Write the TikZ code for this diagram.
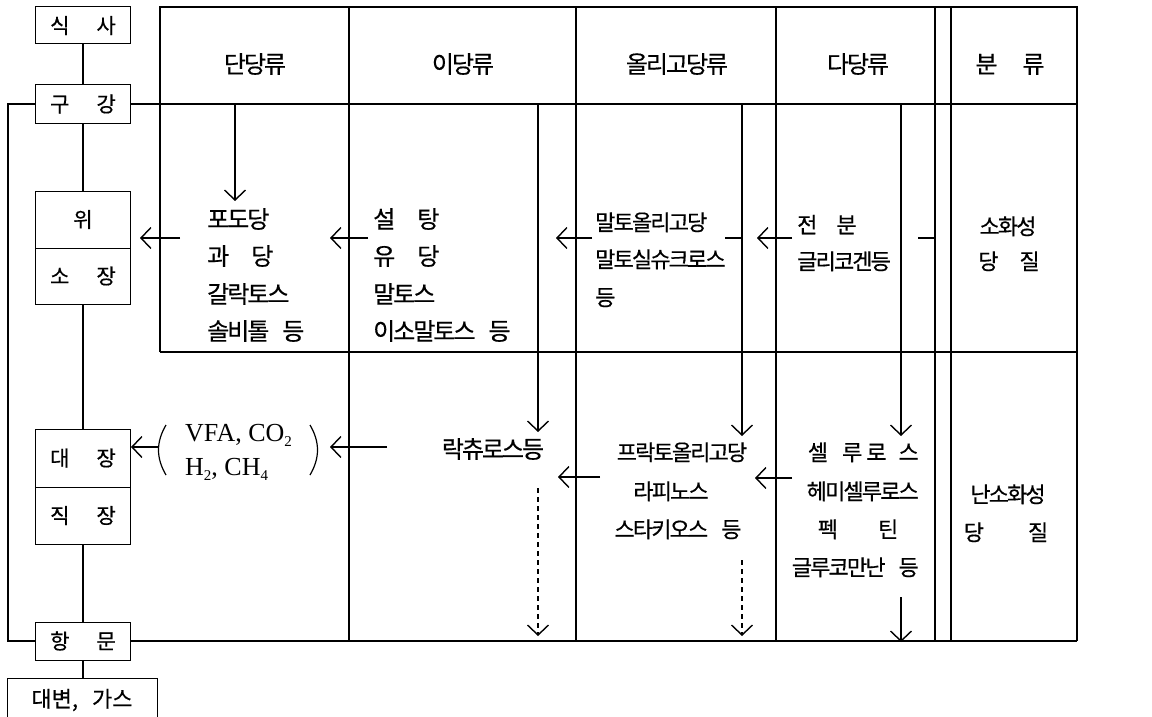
\documentclass[tikz,border=0pt]{standalone}
\usepackage{fontspec}
\newfontfamily\kr{Noto Sans CJK KR}[FakeBold=0.5]
\newfontfamily\krt{Noto Sans CJK KR}[FakeBold=0.5,LetterSpace=-8.5]
\newfontfamily\latf{Liberation Serif}
\newcommand\mysub[1]{\raisebox{-0.22em}{\fontsize{15}{15}\selectfont #1}}
\usetikzlibrary{arrows.meta}
\begin{document}
\begin{tikzpicture}[x=1pt,y=-1pt,
  ln/.style={line width=1.4pt},
  arr/.style={line width=1.4pt,-{Straight Barb[length=10pt,width=21pt,line width=1.4pt]}},
  darr/.style={arr,dash pattern=on 5pt off 4pt},
  box/.style={draw,line width=1pt,inner sep=0pt,minimum width=95pt,font=\kr\fontsize{21}{24}\selectfont},
  big/.style={inner sep=0pt,font=\krt\fontsize{24}{28}\selectfont},
  mid/.style={inner sep=0pt,font=\krt\fontsize{22}{26}\selectfont},
  lat/.style={inner sep=0pt,anchor=base west,font=\latf\fontsize{26}{30}\selectfont},
]
\fill[white] (0,0) rectangle (1152,717);
\useasboundingbox (0,0) rectangle (1152,717);

% ---- body boxes ----
\node[box,minimum height=37pt] (sik) at (83,25.5) {식\hspace{27pt}사};
\node[box,minimum height=38pt] (gu) at (83,104) {구\hspace{27pt}강};
\node[box,minimum height=57pt] (wi) at (83,219.5) {위};
\node[box,minimum height=56pt] (so) at (83,276) {소\hspace{27pt}장};
\node[box,minimum height=58pt] (dae) at (83,458) {대\hspace{27pt}장};
\node[box,minimum height=57pt] (jik) at (83,515.5) {직\hspace{27pt}장};
\node[box,minimum height=38pt] (hang) at (83,641) {항\hspace{27pt}문};
\node[box,minimum width=150pt,minimum height=44pt,font=\kr\fontsize{22}{24}\selectfont] (dv) at (82,700) {대변,\hspace{14pt}가스};

\draw[ln] (sik.south) -- (gu.north);
\draw[ln] (gu.south) -- (wi.north);
\draw[ln] (so.south) -- (dae.north);
\draw[ln] (jik.south) -- (hang.north);
\draw[ln] (hang.south) -- (hang.south |- dv.north);
\coordinate (lt) at (8,104);
\draw[ln] (gu.west) -- (lt) |- (hang.west);

% ---- table ----
\draw[ln] (160,352) -- (160,7) -- (1077,7) -- (1077,641);
\draw[ln] (gu.east) -- (1077,104);
\draw[ln] (160,352) -- (1077,352);
\draw[ln] (hang.east) -- (1077,641);
\foreach \xx in {349,576,776,935,951} \draw[ln] (\xx,7) -- (\xx,641);

% headers
\node[big,anchor=base] (h1) at (255,73) {단당류};
\node[big,anchor=base] (h2) at (463,73) {이당류};
\node[big,anchor=base] (h3) at (677,73) {올리고당류};
\node[big,anchor=base] (h4) at (858,73) {다당류};
\node[big,anchor=base] (h5) at (1010,73) {분\hspace{25pt}류};

% row 1
\node[big,anchor=base west] (a1) at (207,228) {포도당};
\node[big,anchor=base west] (a2) at (207,265) {과\hspace{22pt}당};
\node[big,anchor=base west] (a3) at (207,303) {갈락토스};
\node[big,anchor=base west] (a4) at (207,340) {솔비톨\hspace{13pt}등};
\node[big,anchor=base west] (b1) at (373,228) {설\hspace{22pt}탕};
\node[big,anchor=base west] (b2) at (373,265) {유\hspace{22pt}당};
\node[big,anchor=base west] (b3) at (373,303) {말토스};
\node[big,anchor=base west] (b4) at (373,340) {이소말토스\hspace{13pt}등};
\node[mid,anchor=base west] (c1) at (595,230.5) {말토올리고당};
\node[mid,anchor=base west] (c2) at (595,267.5) {말토실슈크로스};
\node[mid,anchor=base west] (c3) at (595,305.5) {등};
\node[mid,anchor=base west] (d1) at (797,233) {전\hspace{19pt}분};
\node[mid,anchor=base west] (d2) at (797,269.5) {글리코겐등};
\node[mid,anchor=base] (e1) at (1008,234.5) {소화성};
\node[mid,anchor=base] (e2) at (1009,269.5) {당\hspace{21pt}질};

% row 2
\node[big,anchor=base] (f1) at (493,458) {락츄로스등};
\node[mid,anchor=base] (g1) at (682,460.5) {프락토올리고당};
\node[mid,anchor=base] (g2) at (671,499.5) {라피노스};
\node[mid,anchor=base] (g3) at (678,537.5) {스타키오스\hspace{13pt}등};
\node[mid,anchor=base east] (k1) at (919,460.5) {셀\hspace{14pt}루\hspace{4pt}로\hspace{12pt}스};
\node[mid,anchor=base east] (k2) at (919,499.5) {헤미셀루로스};
\node[mid,anchor=base] (k3) at (858,537.5) {펙\hspace{40pt}틴};
\node[mid,anchor=base east] (k4) at (919,575.5) {글루코만난\hspace{13pt}등};
\node[mid,anchor=base] (m1) at (1008,502.5) {난소화성};
\node[mid,anchor=base] (m2) at (1006,540.5) {당\hspace{44pt}질};

% VFA group
\node[lat] (v1) at (185,441) {VFA, CO\mysub{2}};
\node[lat] (v2) at (185,475) {H\mysub{2}, CH\mysub{4}};
\draw[line width=1.2pt] (166,425) .. controls (156,442) and (156,458) .. (166,475);
\draw[line width=1.2pt] (310,425) .. controls (320,442) and (320,458) .. (310,475);
\coordinate (lp) at (158,447);
\coordinate (rp) at (330,447);
\draw[arr] (lp) -- (lp -| dae.east);
\draw[arr] (387,447) -- (rp);

% vertical arrows
\draw[arr] (235,104) -- (235,201);
\draw[arr] (538,104) -- (538,432);
\draw[arr] (742,104) -- (742,436);
\draw[arr] (901,104) -- (901,436);
\draw[darr] (538,488) -- (538,636);
\draw[darr] (742,560) -- (742,636);
\draw[arr] (901,597) -- (901,642);

% horizontal arrows row 1
\draw[arr] (180,238) -- (140,238);
\draw[arr] (368,238) -- (330,238);
\draw[arr] (592,238) -- (556,238);
\draw[arr] (792,238) -- (757,238);
\draw[ln] (725,238) -- (742,238);
\draw[ln] (918,238) -- (935,238);

% horizontal arrows row 2
\draw[arr] (600,477) -- (558,477);
\draw[arr] (792,478) -- (755,478);
\end{tikzpicture}
\end{document}
